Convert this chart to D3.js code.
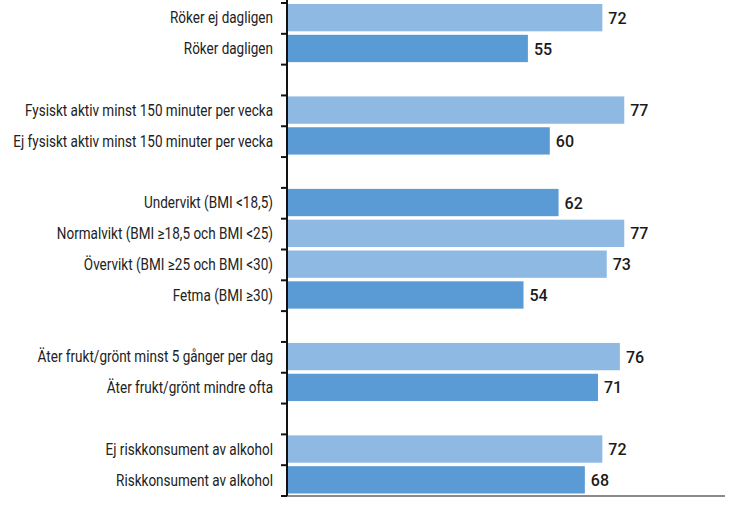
<!DOCTYPE html>
<html><head><meta charset="utf-8">
<script src="https://cdn.jsdelivr.net/npm/d3@7"></script>
<style>
html,body{margin:0;padding:0;background:#fff;}
svg{display:block;}
</style></head>
<body>
<script>
// slots (empty label = spacer row between groups)
const categories = [
  "Röker ej dagligen","Röker dagligen","",
  "Fysiskt aktiv minst 150 minuter per vecka","Ej fysiskt aktiv minst 150 minuter per vecka","",
  "Undervikt (BMI <18,5)","Normalvikt (BMI ≥18,5 och BMI <25)","Övervikt (BMI ≥25 och BMI <30)","Fetma (BMI ≥30)","",
  "Äter frukt/grönt minst 5 gånger per dag","Äter frukt/grönt mindre ofta","",
  "Ej riskkonsument av alkohol","Riskkonsument av alkohol"
];
const values = [72,55,null,77,60,null,62,77,73,54,null,76,71,null,72,68];
const shade = ["light","dark",null,"light","dark",null,"dark","light","light","dark",null,"light","dark",null,"light","dark"];

const W=741,H=507;
const svg=d3.select("body").append("svg").attr("width",W).attr("height",H);
const x0=287;
const x=d3.scaleLinear().domain([0,100]).range([x0,725]);
const keys=categories.map((c,i)=>i);
const y=d3.scaleBand().domain(keys).range([3,496]);
const colors={light:"#8db9e3",dark:"#5b9bd5"};

const rows=keys.map(i=>({i,label:categories[i],v:values[i],s:shade[i]})).filter(d=>d.v!=null);
const bh=y.bandwidth();

svg.selectAll("rect.bar").data(rows).join("rect").attr("class","bar")
  .attr("x",x(0)+1).attr("y",d=>y(d.i)+1).attr("height",bh-3.5)
  .attr("width",d=>x(d.v)-x(0)-1).attr("fill",d=>colors[d.s]);

// condensed labels: compress horizontally so the longest one spans like the reference
const labG=svg.append("g");
const labs=labG.selectAll("text.lab").data(rows).join("text").attr("class","lab")
  .attr("y",d=>y(d.i)+1+(bh-3.5)/2).attr("dy","0.36em")
  .attr("text-anchor","end").attr("font-family","'Roboto',sans-serif")
  .attr("font-size",16).attr("fill","#222").text(d=>d.label);
let maxW=0; labs.each(function(){maxW=Math.max(maxW,this.getComputedTextLength());});
const k=Math.min(1,260/maxW);
labG.attr("transform",`scale(${k},1)`);
labs.attr("x",273/k);

svg.selectAll("text.val").data(rows).join("text").attr("class","val")
  .attr("x",d=>x(d.v)+6).attr("y",d=>y(d.i)+1+(bh-3.5)/2).attr("dy","0.38em")
  .attr("font-family","'Roboto','DejaVu Sans',sans-serif").attr("font-weight",500)
  .attr("font-size",16).attr("fill","#1a1a1a").text(d=>d.v);

// bottom axis line
svg.append("line").attr("x1",x0).attr("x2",x(100)).attr("y1",496).attr("y2",496)
  .attr("stroke","#8a8a8a").attr("stroke-width",2.2);

// vertical axis with ticks at slot boundaries
const bounds=keys.map(i=>y(i)).concat([y.range()[1]]);
svg.append("line").attr("x1",x0).attr("x2",x0).attr("y1",0).attr("y2",496)
  .attr("stroke","#111").attr("stroke-width",2);
svg.selectAll("line.tick").data(bounds).join("line").attr("class","tick")
  .attr("x1",x0-6).attr("x2",x0).attr("y1",d=>d).attr("y2",d=>d)
  .attr("stroke","#111").attr("stroke-width",2);
</script>
</body></html>
